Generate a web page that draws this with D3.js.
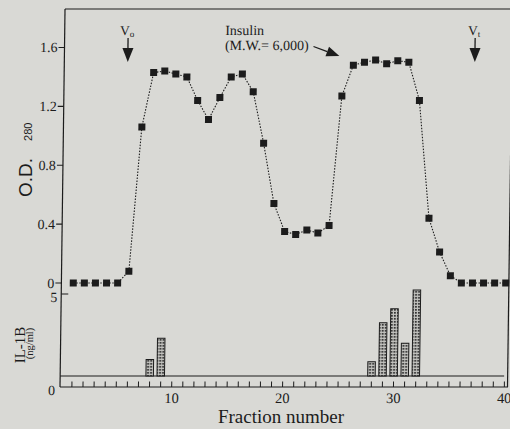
<!DOCTYPE html>
<html>
<head>
<meta charset="utf-8">
<script src="https://cdn.jsdelivr.net/npm/d3@7/dist/d3.min.js"></script>
<style>
  body { margin: 0; background: #d9d9d5; }
  svg { display: block; }
</style>
</head>
<body>
<div id="chart"></div>
<script>
// gel filtration profile, O.D. 280 per fraction
var fractions = [1, 2, 3, 4, 5, 6, 7, 8, 9, 10,
                 11, 12, 13, 14, 15, 16, 17, 18, 19, 20,
                 21, 22, 23, 24, 25, 26, 27, 28, 29, 30,
                 31, 32, 33, 34, 35, 36, 37, 38, 39, 40];
var odValues = [0, 0, 0, 0, 0, 0.08, 1.06, 1.43, 1.44, 1.42,
                1.40, 1.24, 1.11, 1.26, 1.40, 1.42, 1.30, 0.95, 0.54, 0.35,
                0.33, 0.36, 0.34, 0.39, 1.27, 1.48, 1.50, 1.515, 1.49, 1.51,
                1.50, 1.24, 0.44, 0.21, 0.05, 0, 0, 0, 0, 0];

// IL-1B activity (ng/ml)
var barFractions = [8, 9, 28, 29, 30, 31, 32];
var il1bValues = [1.0, 2.3, 0.87, 3.25, 4.1, 2.0, 5.25];

var odTicks = [0, 0.4, 0.8, 1.2, 1.6];
var odTickLabels = ['0', '0.4', '0.8', '1.2', '1.6'];
var fractionTicks = [10, 20, 30, 40];

var voFraction = 5.65, vtFraction = 36.95;

var width = 510, height = 429;
var ink = '#1c1c1c';
var serif = '"Liberation Serif", "DejaVu Serif", serif';
var sans = '"Liberation Sans", Arial, sans-serif';

var x = d3.scaleLinear().domain([0, 40.33]).range([60.8, 508]);
var yOD = d3.scaleLinear().domain([0, 1.6]).range([283, 47.5]);
var yIL = d3.scaleLinear().domain([0, 5]).range([376, 294]);

var svg = d3.select('#chart').append('svg')
    .attr('width', width)
    .attr('height', height);

svg.append('rect')
    .attr('width', width)
    .attr('height', height)
    .attr('fill', '#d9d9d5');

var defs = svg.append('defs');
var pat = defs.append('pattern')
    .attr('id', 'dots')
    .attr('patternUnits', 'userSpaceOnUse')
    .attr('width', 3)
    .attr('height', 3);
pat.append('rect').attr('width', 3).attr('height', 3).attr('fill', '#c4c4c0');
pat.append('rect').attr('width', 1.8).attr('height', 1.8).attr('fill', '#333');

// the scanned page leans slightly, so the whole plot is sheared a bit
var g = svg.append('g')
    .attr('transform', 'translate(0,387) skewX(-0.76) translate(0,-387)');

var x0 = 60;

// frame
g.append('line').attr('x1', x0).attr('x2', 520).attr('y1', 9).attr('y2', 9)
    .attr('stroke', ink).attr('stroke-width', 1.2);
g.append('line').attr('x1', x0).attr('x2', x0).attr('y1', 9).attr('y2', 387)
    .attr('stroke', ink).attr('stroke-width', 1.2);
g.append('line').attr('x1', 507.5).attr('x2', 507.5).attr('y1', 9).attr('y2', 387)
    .attr('stroke', ink).attr('stroke-width', 1.2);

// O.D. axis ticks
g.selectAll('.odtick')
    .data(odTicks)
  .enter().append('line')
    .attr('class', 'odtick')
    .attr('x1', x0 - 6).attr('x2', x0)
    .attr('y1', function(d) { return yOD(d); })
    .attr('y2', function(d) { return yOD(d); })
    .attr('stroke', ink).attr('stroke-width', 1.1);

g.selectAll('.odlabel')
    .data(odTicks)
  .enter().append('text')
    .attr('class', 'odlabel')
    .attr('x', x0 - 7)
    .attr('y', function(d) { return yOD(d); })
    .attr('dy', '0.35em')
    .attr('text-anchor', 'end')
    .style('font-family', serif)
    .style('font-size', '14px')
    .style('fill', ink)
    .text(function(d, i) { return odTickLabels[i]; });

// IL-1B axis
g.append('line').attr('x1', x0).attr('x2', x0 + 7)
    .attr('y1', yIL(5)).attr('y2', yIL(5))
    .attr('stroke', ink).attr('stroke-width', 1.1);
g.append('text')
    .attr('x', x0 - 4).attr('y', yIL(5) + 3).attr('dy', '0.35em')
    .attr('text-anchor', 'end')
    .style('font-family', serif).style('font-size', '14px').style('fill', ink)
    .text('5');
g.append('text')
    .attr('x', x0 - 5).attr('y', 390).attr('dy', '0.35em')
    .attr('text-anchor', 'end')
    .style('font-family', serif).style('font-size', '14px').style('fill', ink)
    .text('0');

// bar baseline and tick strip
g.append('line').attr('x1', x0).attr('x2', 504).attr('y1', yIL(0)).attr('y2', yIL(0))
    .attr('stroke', ink).attr('stroke-width', 1.1);
g.append('line').attr('x1', x0).attr('x2', 508).attr('y1', 387).attr('y2', 387)
    .attr('stroke', ink).attr('stroke-width', 1.1);

g.selectAll('.ftick')
    .data(fractions)
  .enter().append('line')
    .attr('class', 'ftick')
    .attr('x1', function(d) { return x(d); })
    .attr('x2', function(d) { return x(d); })
    .attr('y1', 387).attr('y2', 381.5)
    .attr('stroke', ink).attr('stroke-width', 1);

g.selectAll('.flabel')
    .data(fractionTicks)
  .enter().append('text')
    .attr('class', 'flabel')
    .attr('x', function(d) { return x(d); })
    .attr('y', 403)
    .attr('text-anchor', 'middle')
    .style('font-family', serif)
    .style('font-size', '14.5px')
    .style('fill', ink)
    .text(function(d) { return d; });

// IL-1B bars
var barW = 7.5;
g.selectAll('.bar')
    .data(barFractions)
  .enter().append('rect')
    .attr('class', 'bar')
    .attr('x', function(d) { return x(d) - barW / 2; })
    .attr('y', function(d, i) { return yIL(il1bValues[i]); })
    .attr('width', barW)
    .attr('height', function(d, i) { return yIL(0) - yIL(il1bValues[i]); })
    .attr('fill', 'url(#dots)')
    .attr('stroke', ink)
    .attr('stroke-width', 1);

// O.D. profile
var pts = fractions.map(function(f, i) { return { f: f, v: odValues[i] }; });

var line = d3.line()
    .x(function(d) { return x(d.f); })
    .y(function(d) { return yOD(d.v); });

g.append('path')
    .datum(pts)
    .attr('d', line)
    .attr('fill', 'none')
    .attr('stroke', ink)
    .attr('stroke-width', 1.1)
    .attr('stroke-dasharray', '1.5,1.5');

var sq = 7;
g.selectAll('.pt')
    .data(pts)
  .enter().append('rect')
    .attr('class', 'pt')
    .attr('x', function(d) { return x(d.f) - sq / 2; })
    .attr('y', function(d) { return yOD(d.v) - sq / 2; })
    .attr('width', sq)
    .attr('height', sq)
    .attr('fill', ink);

// void / total volume markers
function volMarker(f, sub) {
  var cx = x(f);
  g.append('line').attr('x1', cx).attr('x2', cx).attr('y1', 38).attr('y2', 50)
      .attr('stroke', ink).attr('stroke-width', 1.3);
  g.append('path')
      .attr('d', 'M' + (cx - 5.5) + ',48L' + (cx + 5.5) + ',48L' + cx + ',62Z')
      .attr('fill', ink);
  var t = g.append('text')
      .attr('x', cx - 1).attr('y', 35)
      .attr('text-anchor', 'middle')
      .style('font-family', serif).style('font-size', '13.5px').style('fill', ink);
  t.append('tspan').text('V');
  t.append('tspan').attr('dy', 2).style('font-size', '9px').text(sub);
}
volMarker(voFraction, 'o');
volMarker(vtFraction, 't');

// insulin marker
g.append('text')
    .attr('x', 220.5).attr('y', 35)
    .style('font-family', serif).style('font-size', '14px').style('fill', ink)
    .text('Insulin');
g.append('text')
    .attr('x', 220.5).attr('y', 50)
    .style('font-family', serif).style('font-size', '14px').style('fill', ink)
    .text('(M.W.= 6,000)');

var ax1 = 309, ay1 = 46.5, ax2 = 335, ay2 = 56;
var ang = Math.atan2(ay2 - ay1, ax2 - ax1);
var hl = 13, hw = 5;
var bx = ax2 - hl * Math.cos(ang), by = ay2 - hl * Math.sin(ang);
g.append('line').attr('x1', ax1).attr('y1', ay1).attr('x2', bx).attr('y2', by)
    .attr('stroke', ink).attr('stroke-width', 1.3);
g.append('path')
    .attr('d', 'M' + ax2 + ',' + ay2 +
        'L' + (bx + hw * Math.sin(ang)) + ',' + (by - hw * Math.cos(ang)) +
        'L' + (bx - hw * Math.sin(ang)) + ',' + (by + hw * Math.cos(ang)) + 'Z')
    .attr('fill', ink);

// axis titles
svg.append('text')
    .attr('x', 281).attr('y', 423)
    .attr('text-anchor', 'middle')
    .style('font-family', serif).style('font-size', '19px').style('fill', ink)
    .text('Fraction number');

var od = svg.append('text')
    .attr('transform', 'translate(32,197) rotate(-90)')
    .style('font-family', sans).style('fill', ink);
od.append('tspan').style('font-size', '19px').text('O.D.');
od.append('tspan').attr('dx', 17).style('font-size', '11px').text('280');

svg.append('text')
    .attr('transform', 'translate(25,345) rotate(-90)')
    .attr('text-anchor', 'middle')
    .style('font-family', serif).style('font-size', '15px').style('fill', ink)
    .text('IL-1B');
svg.append('text')
    .attr('transform', 'translate(33,343.5) rotate(-90)')
    .attr('text-anchor', 'middle')
    .style('font-family', serif).style('font-size', '10.5px').style('fill', ink)
    .text('(ng/ml)');
</script>
</body>
</html>
